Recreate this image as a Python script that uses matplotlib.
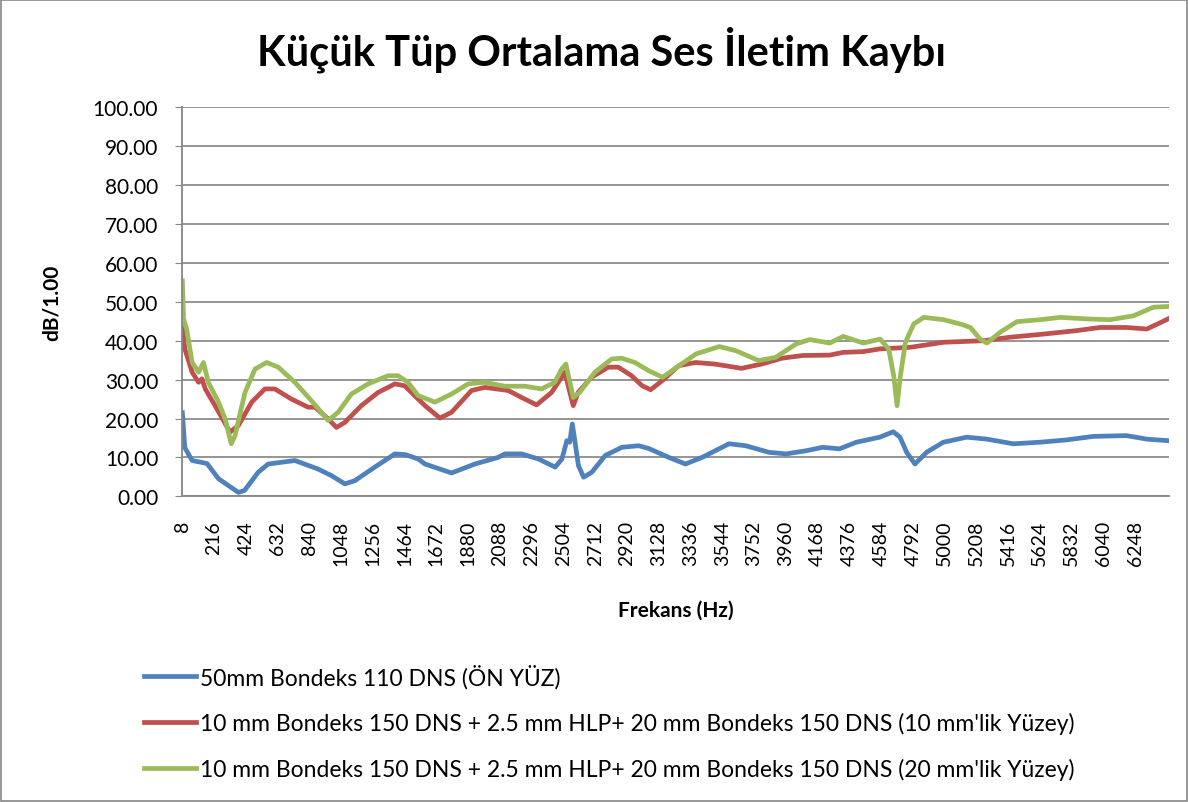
import matplotlib
matplotlib.use("Agg")
import matplotlib.pyplot as plt
from matplotlib.patches import Rectangle

plt.rcParams['font.family'] = ['Lato', 'DejaVu Sans']

# readings (Hz, dB)
blue_f = [8, 24, 72, 136, 170, 245, 375, 415, 505, 570, 745, 897, 985, 1072, 1137,
          1268, 1400, 1470, 1552, 1597, 1771, 1924, 2076, 2120, 2230, 2340, 2450, 2494,
          2526, 2545, 2562, 2580, 2602, 2636, 2690, 2778, 2887, 2996, 3062, 3194, 3303,
          3412, 3588, 3698, 3850, 3962, 4092, 4202, 4312, 4422, 4576, 4664, 4708, 4752,
          4806, 4882, 4992, 5145, 5276, 5450, 5625, 5800, 5974, 6192, 6324, 6464]
blue_v = [21.5, 12.5, 9.2, 8.7, 8.4, 4.5, 1.0, 1.5, 6.2, 8.3, 9.2, 7.0, 5.3, 3.2, 4.0,
          7.5, 10.9, 10.7, 9.6, 8.3, 6.0, 8.3, 10.0, 10.9, 10.9, 9.6, 7.5, 9.6,
          14.3, 13.9, 18.6, 13.9, 7.9, 4.9, 6.2, 10.5, 12.6, 13.0, 12.3, 10.0, 8.3,
          10.0, 13.5, 13.0, 11.3, 10.9, 11.7, 12.6, 12.2, 13.9, 15.2, 16.6, 15.2, 11.3,
          8.3, 11.3, 13.9, 15.2, 14.7, 13.5, 13.9, 14.5, 15.4, 15.6, 14.7, 14.3]

red_f = [8, 24, 72, 114, 136, 158, 222, 320, 375, 462, 548, 614, 722, 832, 876, 963,
         1017, 1072, 1180, 1290, 1400, 1464, 1552, 1597, 1695, 1771, 1902, 1989, 2142,
         2230, 2328, 2426, 2492, 2513, 2546, 2568, 2600, 2688, 2798, 2863, 2950, 3020,
         3075, 3150, 3260, 3370, 3495, 3670, 3802, 3935, 4072, 4248, 4336, 4468, 4578,
         4776, 4994, 5256, 5430, 5648, 5866, 6019, 6193, 6324, 6411, 6464]
red_v = [44.0, 37.9, 31.9, 29.3, 30.2, 27.6, 23.3, 16.5, 18.2, 24.2, 27.6, 27.6, 25.0,
         22.9, 22.9, 19.9, 17.7, 19.0, 23.3, 26.7, 28.9, 28.4, 25.0, 23.3, 20.1, 21.6,
         27.2, 28.0, 27.2, 25.4, 23.5, 26.7, 30.6, 31.9, 26.7, 23.3, 26.7, 30.6, 33.2,
         33.2, 31.0, 28.4, 27.4, 29.7, 33.6, 34.4, 34.0, 32.9, 34.0, 35.5, 36.2, 36.3,
         37.0, 37.2, 37.9, 38.3, 39.6, 40.0, 40.9, 41.7, 42.6, 43.4, 43.4, 43.0, 44.6, 45.6]

green_f = [8, 16, 36, 72, 114, 146, 178, 245, 288, 328, 353, 418, 484, 560, 636, 745,
           853, 963, 1028, 1115, 1225, 1355, 1421, 1486, 1552, 1662, 1771, 1880, 1989,
           2120, 2251, 2360, 2447, 2492, 2520, 2546, 2568, 2610, 2710, 2820, 2885, 2972,
           3062, 3153, 3262, 3372, 3525, 3635, 3782, 3892, 4030, 4117, 4248, 4336, 4468,
           4578, 4634, 4667, 4689, 4711, 4744, 4798, 4864, 4994, 5103, 5169, 5234, 5278,
           5365, 5474, 5626, 5757, 5932, 6084, 6237, 6367, 6464]
green_v = [55.4, 45.6, 43.0, 34.4, 31.9, 34.4, 29.3, 24.2, 19.9, 13.5, 15.6, 26.7, 32.7,
           34.4, 33.2, 29.3, 24.6, 19.5, 21.6, 26.3, 28.9, 31.0, 31.0, 29.3, 25.9, 24.2,
           26.3, 28.9, 29.3, 28.3, 28.3, 27.6, 29.3, 32.7, 34.0, 29.3, 25.4, 26.7, 31.9,
           35.3, 35.5, 34.4, 32.3, 30.6, 33.6, 36.6, 38.5, 37.4, 34.9, 35.7, 39.2, 40.3,
           39.4, 41.1, 39.4, 40.4, 37.9, 31.0, 23.3, 31.0, 39.6, 44.3, 46.0, 45.4, 44.3,
           43.4, 40.4, 39.4, 42.2, 44.9, 45.4, 46.0, 45.6, 45.4, 46.4, 48.6, 48.8]

labels = ["50mm Bondeks 110 DNS (ÖN YÜZ)",
          "10 mm Bondeks 150 DNS + 2.5 mm HLP+ 20 mm Bondeks 150 DNS (10 mm'lik Yüzey)",
          "10 mm Bondeks 150 DNS + 2.5 mm HLP+ 20 mm Bondeks 150 DNS (20 mm'lik Yüzey)"]
x_ticks = list(range(8, 6249, 208))

fig = plt.figure(figsize=(11.88, 8.03), dpi=100)
ax = fig.add_axes([0.153, 0.3807, 0.831, 0.4844])

ax.plot(blue_f, blue_v, color="#4F81BD", lw=3.4, label=labels[0])
ax.plot(red_f, red_v, color="#C0504D", lw=3.4, label=labels[1])
ax.plot(green_f, green_v, color="#9BBB59", lw=3.4, label=labels[2])

ax.set_xlim(4, 6470)
ax.set_ylim(0, 100)
ax.set_yticks(range(0, 101, 10))
ax.set_yticklabels([f"{v:.2f}" for v in range(0, 101, 10)])
ax.set_xticks(x_ticks)
ax.set_xticklabels([str(t) for t in x_ticks], rotation=90)
ax.tick_params(axis='y', labelsize=15, length=5, pad=12, color="#868686")
ax.tick_params(axis='x', labelsize=14, length=0, pad=17)
ax.yaxis.grid(True, color="#8c8c8c", lw=1.3)
ax.set_axisbelow(True)
for s in ['top', 'right']:
    ax.spines[s].set_visible(False)
for s in ['left', 'bottom']:
    ax.spines[s].set_color("#868686")
    ax.spines[s].set_linewidth(1.3)

ax.set_xlabel("Frekans (Hz)", fontsize=15, fontweight='bold', labelpad=25)
ax.set_ylabel("dB/1.00", fontsize=15, fontweight='bold', labelpad=22)
fig.text(0.506, 0.938, "Küçük Tüp Ortalama Ses İletim Kaybı", ha='center', va='center',
         fontsize=30, fontweight='bold')

fig.legend(loc='upper left', bbox_to_anchor=(0.1134, 0.1834), frameon=False,
           fontsize=16.5, handlelength=2.27, handletextpad=0.2, labelspacing=1.03,
           borderaxespad=0)

fig.patches.append(Rectangle((0.001, 0.001), 0.998, 0.998, transform=fig.transFigure,
                             fill=False, edgecolor="#868686", lw=1.2))

fig.savefig("out.png", dpi=100)
